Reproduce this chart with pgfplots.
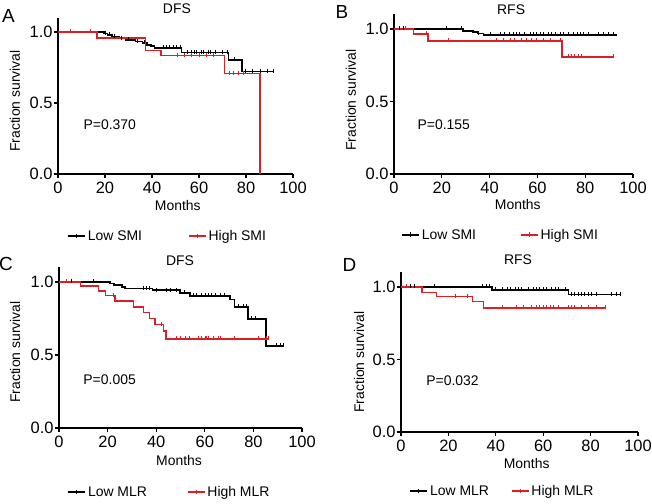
\documentclass[border=0pt]{standalone}
\usepackage{fontspec}
\setmainfont{Liberation Sans}
\usepackage{pgfplots}
\pgfplotsset{compat=1.18}
\definecolor{kmred}{RGB}{218,32,38}
\pgfplotsset{
  every axis title shift=0pt,
  km/.style={
    scale only axis, axis lines=left, axis line style={-, line width=1.1bp, black},
    xmin=0, xmax=100, ymin=0, ymax=1.1,
    xtick={0,20,...,100}, ytick={0,0.5,1},
    tick align=outside, major tick length=4bp,
    tick style={line width=1.1bp, black},
    /pgf/number format/assume math mode=true,
    xticklabel style={font=\fontsize{16.5}{18}\selectfont, yshift=-1bp},
    yticklabel style={font=\fontsize{16.5}{18}\selectfont, xshift=2bp, /pgf/number format/.cd, fixed, fixed zerofill, precision=1},
    clip=false,
    legend columns=2, legend cell align=left,
    legend image code/.code={
      \draw[##1, mark=none] (0bp,0bp) -- (17bp,0bp);
      \draw[##1, mark=none, line width=1bp] (8.5bp,-2bp) -- (8.5bp,2.5bp);
    },
    legend style={draw=none, fill=none, anchor=west, inner sep=0pt,
      nodes={inner sep=2bp}},
    xlabel={Months}, ylabel={Fraction survival},
  },
  lowline/.style={black, line width=1.7bp, const plot, mark=none},
  highline/.style={kmred, line width=1.5bp, const plot, mark=none},
  lowcens/.style={black, only marks, mark=|, mark size=2bp, mark options={line width=1bp, yshift=0.8bp}, forget plot},
  highcens/.style={kmred, only marks, mark=|, mark size=2bp, mark options={line width=1bp, yshift=0.8bp}, forget plot},
}
\begin{document}
\begin{tikzpicture}[x=1bp,y=1bp,font=\fontsize{14}{16.8}\selectfont]
\useasboundingbox (0,0) rectangle (652,504);

% ---------------- Panel A ----------------
\begin{axis}[km, at={(58bp,330bp)}, anchor=south west, width=235bp, height=156.2bp,
  title={DFS}, title style={at={(axis description cs:0.506,1.056)}, anchor=center},
  xlabel style={at={(axis description cs:0.51,-0.205)}, anchor=center},
  ylabel style={at={(axis description cs:-0.183,0.467)}, anchor=center},
  legend style={at={(0.038,-0.397)}, /tikz/every even column/.append style={column sep=44bp}}]
\addplot[lowline] coordinates {(0,1)(19.5,0.99)(21,0.978)(23,0.966)(26,0.955)(29,0.944)(33,0.933)(36,0.922)(38,0.91)(39.5,0.9)(41,0.888)(52.5,0.855)(72.5,0.805)(78.3,0.722)(91.5,0.722)};
\addlegendentry{Low SMI}
\addplot[highline] coordinates {(0,1)(16.5,0.958)(37.2,0.868)(43.8,0.833)(70.8,0.708)(86,0.708)(86,0)};
\addlegendentry{High SMI}
\addplot[lowcens] coordinates {(20,0.99)(22,0.978)(24,0.966)(27,0.955)(30,0.944)(34,0.933)(37,0.922)(44.7,0.888)(46,0.888)(47.6,0.888)(49,0.888)(50.6,0.888)(52,0.888)(55,0.855)(57,0.855)(58,0.855)(59,0.855)(61,0.855)(62,0.855)(64,0.855)(65,0.855)(67,0.855)(70,0.855)(72,0.855)(75,0.805)(79.6,0.722)(82.6,0.722)(86,0.722)(89,0.722)(91.5,0.722)};
\addplot[highcens] coordinates {(5.5,1)(14,1)(51,0.833)(54,0.833)(57,0.833)(60,0.833)(63,0.833)(66,0.833)(73,0.708)(74.5,0.708)(76.6,0.708)(79,0.708)};
\node[anchor=west] at (axis cs:9.4,0.345) {P=0.370};
\end{axis}

% ---------------- Panel B ----------------
\begin{axis}[km, at={(394bp,330bp)}, anchor=south west, width=239bp, height=159.5bp,
  title={RFS}, title style={at={(axis description cs:0.49,1.033)}, anchor=center},
  xlabel style={at={(axis description cs:0.518,-0.194)}, anchor=center},
  ylabel style={at={(axis description cs:-0.18,0.464)}, anchor=center},
  legend style={at={(0.029,-0.382)}, /tikz/every even column/.append style={column sep=42bp}}]
\addplot[lowline] coordinates {(0,1)(29,0.988)(33,0.978)(35,0.968)(37.5,0.958)(93.2,0.958)};
\addlegendentry{Low SMI}
\addplot[highline] coordinates {(0,1)(8.1,0.967)(14.2,0.916)(70.2,0.806)(91.8,0.806)};
\addlegendentry{High SMI}
\addplot[lowcens] coordinates {(2.2,1)(3.9,1)(22,1)(28.3,1)(35.3,0.968)(40.2,0.958)(44.4,0.958)(46.4,0.958)(48.5,0.958)(49.9,0.958)(51.3,0.958)(52.7,0.958)(54.8,0.958)(56.9,0.958)(58.3,0.958)(59.7,0.958)(61.1,0.958)(62.5,0.958)(64.6,0.958)(66,0.958)(67.4,0.958)(69.5,0.958)(70.9,0.958)(73,0.958)(75.2,0.958)(76.6,0.958)(77.9,0.958)(79.4,0.958)(81.5,0.958)(85.7,0.958)(87.8,0.958)(89.9,0.958)(92,0.958)};
\addplot[highcens] coordinates {(5,1)(13.4,0.967)(22.7,0.916)(42.7,0.916)(45.7,0.916)(48.8,0.916)(50.6,0.916)(53.4,0.916)(55.5,0.916)(57.6,0.916)(59.7,0.916)(62.5,0.916)(65.3,0.916)(69.5,0.916)(72.9,0.806)(74.3,0.806)(75.7,0.806)(77.1,0.806)(78.5,0.806)(91.8,0.806)};
\node[anchor=west] at (axis cs:8.4,0.338) {P=0.155};
\end{axis}

% ---------------- Panel C ----------------
\begin{axis}[km, at={(59bp,76bp)}, anchor=south west, width=243bp, height=160.6bp,
  title={DFS}, title style={at={(axis description cs:0.498,1.044)}, anchor=center},
  xlabel style={at={(axis description cs:0.494,-0.205)}, anchor=center},
  ylabel style={at={(axis description cs:-0.181,0.473)}, anchor=center},
  legend style={at={(0.033,-0.399)}, /tikz/every even column/.append style={column sep=38bp}}]
\addplot[lowline, line width=1.8bp] coordinates {(0,1)(21,0.989)(22.5,0.978)(25.8,0.966)(27.2,0.955)(38.5,0.943)(49.8,0.927)(53.8,0.906)(70.4,0.88)(72.2,0.83)(77.9,0.749)(85.3,0.56)(92.7,0.56)};
\addlegendentry{Low MLR}
\addplot[highline] coordinates {(0,1)(8.8,0.972)(16.3,0.94)(19.1,0.907)(23,0.871)(30.6,0.829)(34.8,0.791)(37.3,0.749)(39.5,0.709)(42.9,0.666)(44.1,0.609)(86.1,0.609)};
\addlegendentry{High MLR}
\addplot[lowcens] coordinates {(3.2,1)(5.2,1)(14.1,1)(34.7,0.955)(36.1,0.955)(37.4,0.955)(40.2,0.943)(44.3,0.943)(45.7,0.943)(48.4,0.943)(51.5,0.927)(55.3,0.906)(56.7,0.906)(58.7,0.906)(60.1,0.906)(61.4,0.906)(62.8,0.906)(64.2,0.906)(66.3,0.906)(68.3,0.906)(73.8,0.83)(75.8,0.83)(77.3,0.83)(79.3,0.749)(80.7,0.749)(89.6,0.56)(91,0.56)(92.3,0.56)};
\addplot[highcens] coordinates {(3.2,1)(22.5,0.907)(42.3,0.709)(48.4,0.609)(49.8,0.609)(51.9,0.609)(53.9,0.609)(57.3,0.609)(58.7,0.609)(60.1,0.609)(60.8,0.609)(61.4,0.609)(63.5,0.609)(65.5,0.609)(66.3,0.609)(72.4,0.609)(82,0.609)(85.5,0.609)(86.1,0.609)};
\node[anchor=west] at (axis cs:8.6,0.329) {P=0.005};
\end{axis}

% ---------------- Panel D ----------------
\begin{axis}[km, at={(401bp,72bp)}, anchor=south west, width=237bp, height=159.5bp,
  title={RFS}, title style={at={(axis description cs:0.494,1.078)}, anchor=center},
  xlabel style={at={(axis description cs:0.53,-0.199)}, anchor=center},
  ylabel style={at={(axis description cs:-0.177,0.439)}, anchor=center},
  legend style={at={(0.034,-0.370)}, /tikz/every even column/.append style={column sep=20bp}}]
\addplot[lowline, line width=1.8bp] coordinates {(0,1)(38.5,0.978)(70.7,0.948)(92.8,0.948)};
\addlegendentry{Low MLR}
\addplot[highline] coordinates {(0,1)(8.9,0.963)(15,0.933)(30.2,0.899)(34.7,0.855)(86.7,0.855)};
\addlegendentry{High MLR}
\addplot[lowcens] coordinates {(4.2,1)(5.6,1)(14,1)(34.5,1)(35.9,1)(37.3,1)(40,0.978)(42.9,0.978)(45,0.978)(46.4,0.978)(48.5,0.978)(49.5,0.978)(50.9,0.978)(53.7,0.978)(55.8,0.978)(57.3,0.978)(58.6,0.978)(60,0.978)(61.5,0.978)(63.6,0.978)(65,0.978)(66.4,0.978)(69.2,0.978)(72,0.948)(73.4,0.948)(74.8,0.948)(76.2,0.948)(77.6,0.948)(79,0.948)(80.5,0.948)(82.6,0.948)(88.9,0.948)(91,0.948)(92.4,0.948)};
\addplot[highcens] coordinates {(2.5,1)(22.9,0.933)(28.1,0.933)(42.9,0.855)(48.8,0.855)(51.6,0.855)(55.1,0.855)(57.3,0.855)(58.6,0.855)(60,0.855)(61.5,0.855)(62.9,0.855)(64.3,0.855)(66.4,0.855)(70.6,0.855)(72,0.855)(73.4,0.855)(76.2,0.855)(79,0.855)(82.6,0.855)(86.1,0.855)};
\node[anchor=west] at (axis cs:9.2,0.357) {P=0.032};
\end{axis}

% panel letters
\node[font=\fontsize{19}{20}\selectfont] at (8.5,488.5) {A};
\node[font=\fontsize{19}{20}\selectfont] at (342,492) {B};
\node[font=\fontsize{19}{20}\selectfont] at (6,240) {C};
\node[font=\fontsize{19}{20}\selectfont] at (349.5,239.5) {D};
\end{tikzpicture}
\end{document}
